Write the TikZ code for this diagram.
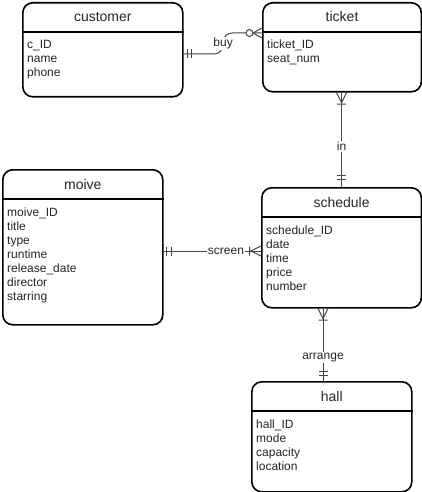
\documentclass[tikz,border=0pt]{standalone}
\usepackage{fontspec}
\setmainfont{Liberation Sans}
\usetikzlibrary{calc}
\definecolor{conncol}{RGB}{70,70,70}
\tikzset{
  ebox/.style={draw=black, line width=1.6pt, rounded corners=10pt, inner sep=0pt, fill=white},
  edivider/.style={draw=black, line width=1.6pt},
  etitle/.style={font=\fontsize{14}{16}\selectfont, inner sep=0pt, anchor=base, text=black!85},
  eattr/.style={font=\fontsize{12}{14}\selectfont, inner sep=0pt, anchor=base west, text=black!85},
  conn/.style={draw=conncol, line width=1pt},
  rlabel/.style={font=\fontsize{12}{14}\selectfont, fill=white, inner sep=1pt, text=black!85},
}
\newcommand{\erentity}[7]{%
  \node[ebox, minimum width=#4pt, minimum height=#5pt, anchor=north west] (#1) at (#2,#3) {};
  \draw[edivider] ($(#1.north west)+(0,30)$) -- ($(#1.north east)+(0,30)$);
  \node[etitle] (#1-t) at ($(#1.north)+(0,20)$) {#6};
  \foreach \a [count=\i] in {#7}
    \node[eattr] (#1-a\i) at ($(#1.north west)+(5,33+14*\i)$) {\a};
}
\newcommand{\ermandone}[4]{%
  \begin{scope}[shift={(#1)}, rotate=#2]
    \draw[conn] (#3,-4.5) -- (#3,4.5) (#4,-4.5) -- (#4,4.5);
  \end{scope}}
\newcommand{\eronemany}[2]{%
  \begin{scope}[shift={(#1)}, rotate=#2]
    \draw[conn] (0,-5) -- (10,0) -- (0,5) (11.5,-4.5) -- (11.5,4.5);
  \end{scope}}
\newcommand{\erzeromany}[2]{%
  \begin{scope}[shift={(#1)}, rotate=#2]
    \draw[conn] (0,-5) -- (9,0) -- (0,5);
    \draw[conn, fill=white] (12.5,0) circle (3.5);
  \end{scope}}
\begin{document}
\begin{tikzpicture}[x=1pt, y=-1pt]
  \useasboundingbox (0,0) rectangle (422,492);
  \fill[white] (0,0) rectangle (422,492);

  \erentity{customer}{22}{2}{160}{94}{customer}{c\_ID,name,phone}
  \erentity{ticket}{262}{2}{158.5}{89}{ticket}{ticket\_ID,seat\_num}
  \erentity{moive}{2}{169}{160}{155}{moive}{moive\_ID,title,type,runtime,release\_date,director,starring}
  \erentity{schedule}{261}{187}{159.5}{120}{schedule}{schedule\_ID,date,time,price,number}
  \erentity{hall}{251}{381}{160}{110}{hall}{hall\_ID,mode,capacity,location}

  % buy
  \coordinate (buyA) at ($(customer.north east)+(0,52)$);
  \coordinate (buyB) at ($(ticket.north west)+(0,31)$);
  \coordinate (buyM) at ($(buyA)+(39.5,0)$);
  \draw[conn, rounded corners=9pt] (buyA) -- (buyM) |- (buyB)
    node[rlabel, pos=0.25] (buyL) {buy};
  \ermandone{buyA}{0}{4}{8}
  \erzeromany{buyB}{180}

  % in
  \draw[conn] (ticket.south) -- (schedule.north |- ticket.south) coordinate (inA)
    -- (inA |- schedule.north) coordinate (inB)
    node[rlabel, pos=0.57] (inL) {in};
  \eronemany{inA}{-90}
  \ermandone{inB}{90}{8}{12}

  % screen
  \coordinate (scrA) at ($(moive.north east)+(0,82)$);
  \coordinate (scrB) at (scrA -| schedule.west);
  \draw[conn] (scrA) -- (scrB) node[rlabel, pos=0.64] (scrL) {screen};
  \ermandone{scrA}{0}{3}{8}
  \eronemany{scrB}{180}

  % arrange
  \coordinate (arrA) at ($(schedule.south west)+(62,0)$);
  \coordinate (arrB) at (arrA |- hall.north);
  \draw[conn] (arrA) -- (arrB) node[rlabel, pos=0.67] (arrL) {arrange};
  \eronemany{arrA}{-90}
  \ermandone{arrB}{90}{6}{10}
\end{tikzpicture}
\end{document}
